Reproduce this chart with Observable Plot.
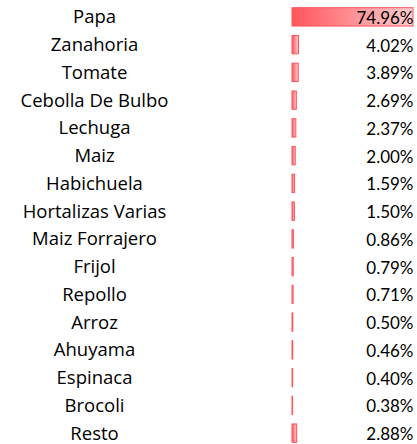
<!DOCTYPE html>
<html><head><meta charset="utf-8">
<script src="https://cdn.jsdelivr.net/npm/d3@7"></script>
<script src="https://cdn.jsdelivr.net/npm/@observablehq/plot@0.6"></script>
<style>body{margin:0;background:#fff}</style>
</head><body><div id="chart"></div>
<script>
const categories = ["Papa","Zanahoria","Tomate","Cebolla De Bulbo","Lechuga","Maiz","Habichuela","Hortalizas Varias","Maiz Forrajero","Frijol","Repollo","Arroz","Ahuyama","Espinaca","Brocoli","Resto"];
const values = [74.96,4.02,3.89,2.69,2.37,2.00,1.59,1.50,0.86,0.79,0.71,0.50,0.46,0.40,0.38,2.88];
const labels = ["74.96%","4.02%","3.89%","2.69%","2.37%","2.00%","1.59%","1.50%","0.86%","0.79%","0.71%","0.50%","0.46%","0.40%","0.38%","2.88%"];
const data = categories.map((c,i)=>({cat:c, v:values[i], label:labels[i]}));

const chart = Plot.plot({
  width: 417, height: 444,
  marginLeft: 292, marginRight: 4, marginTop: 0, marginBottom: 0,
  x: {domain:[0, 74.96], axis: null},
  y: {domain: categories, range:[3, 447], padding: 0, round: false, axis: null},
  style: {fontFamily: "'Open Sans', sans-serif", fontSize: "18px", color:"#000", background:"#fff"},
  marks: [
    () => {
      const s = d3.create("svg:defs");
      const g = s.append("linearGradient").attr("id","rg").attr("x1","0").attr("x2","1").attr("y1","0").attr("y2","0");
      g.append("stop").attr("offset","0").attr("stop-color","#ff555c");
      g.append("stop").attr("offset","1").attr("stop-color","#ffcdd0");
      return s.node();
    },
    Plot.barX(data, {x1: 0, x2: "v", y: "cat", insetTop: 4.7, insetBottom: 4.7, fill: "url(#rg)", stroke: "#ff555c", strokeWidth: 1}),
    Plot.text(data, {y: "cat", text: "label", frameAnchor: "right", textAnchor: "end", fill: "#000", fontSize: 17, fontFamily: "Lato, sans-serif", dy: 1}),
    Plot.text(data, {y: "cat", text: "cat", frameAnchor: "left", textAnchor: "middle", dx: -198, fill: "#000", fontSize: 18.5})
  ]
});
document.getElementById("chart").appendChild(chart);
</script>
</body></html>
